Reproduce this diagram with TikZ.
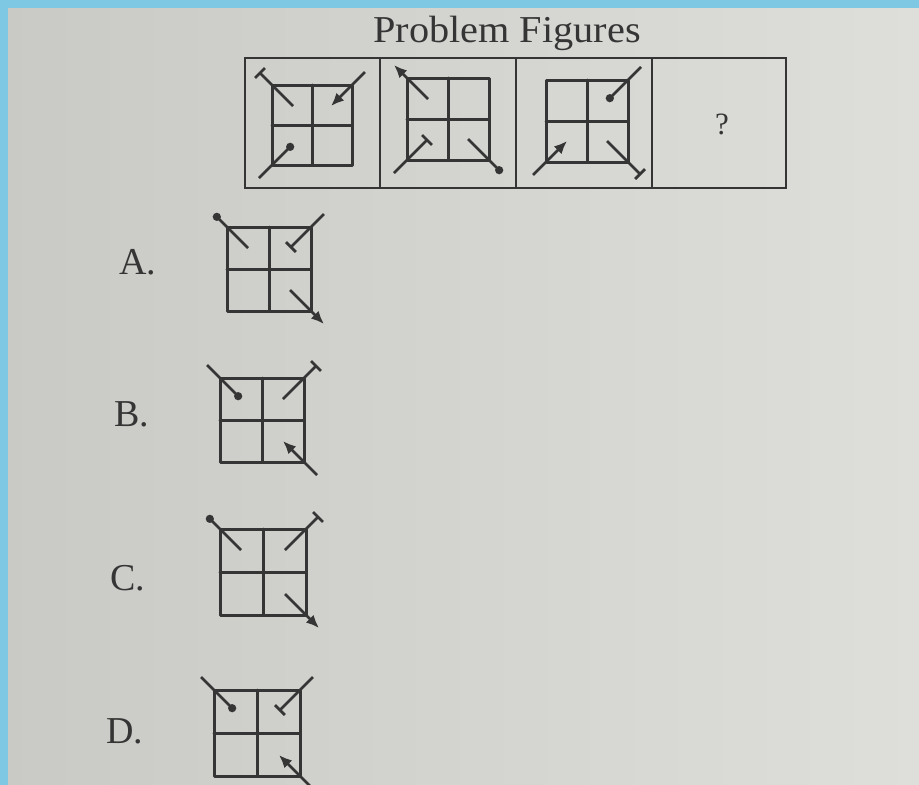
\documentclass[tikz,border=0pt]{standalone}
\usepackage{fontspec}
\setmainfont{Liberation Serif}
\usetikzlibrary{arrows.meta}
\definecolor{paperL}{HTML}{C9C9C5}
\definecolor{paperR}{HTML}{DEDEDA}
\definecolor{skyb}{HTML}{7EC8E3}
\definecolor{ink}{HTML}{353535}
\tikzset{
  gridline/.style={draw=ink,line width=3pt,line cap=round,line join=round},
  frameline/.style={draw=ink,line width=2.3pt},
  symline/.style={draw=ink,fill=ink,line width=2.8pt},
  lbl/.style={font=\fontsize{38}{42}\selectfont,text=ink,inner sep=0pt},
  aout/.style={{Latex[length=13pt,width=11pt]}-},
  ain/.style={-{Latex[length=13pt,width=11pt]}},
  dout/.style={{Circle[length=8pt]}-},
  din/.style={-{Circle[length=8pt]}},
  tout/.style={{Bar[width=14pt,line width=2.8pt]}-},
  tin/.style={-{Bar[width=14pt,line width=2.8pt]}}
}
% #1 cx, #2 cy, #3 half size
\newcommand\gridsq[3]{%
  \draw[gridline] ({#1-#3},{#2-#3}) rectangle ({#1+#3},{#2+#3});
  \draw[gridline] (#1,{#2-#3}) -- (#1,{#2+#3}) ({#1-#3},#2) -- ({#1+#3},#2);}
% #1 cx, #2 cy, #3 sx, #4 sy, #5 half size, #6 tip style
\newcommand\dline[6]{%
  \draw[symline,#6] ({#1+#3*(#5+13)},{#2+#4*(#5+13)}) -- ({#1+#3*(#5-21)},{#2+#4*(#5-21)});}
\begin{document}
\begin{tikzpicture}[x=1pt,y=-1pt]
\useasboundingbox (0,0) rectangle (919,785);
\shade[left color=paperL,right color=paperR] (0,0) rectangle (919,785);
\fill[skyb] (0,0) rectangle (919,8);
\fill[skyb] (0,0) rectangle (8,785);
% title
\node[lbl,anchor=base,xscale=1.06] (title) at (507,42) {Problem Figures};
% problem frame
\draw[frameline] (245,58) rectangle (786,188);
\draw[frameline] (380,58) -- (380,188) (516,58) -- (516,188) (652,58) -- (652,188);
% cell 1
\gridsq{312}{125}{40}
\dline{312}{125}{-1}{-1}{40}{tout}
\dline{312}{125}{1}{-1}{40}{ain}
\dline{312}{125}{-1}{1}{40}{din}
% cell 2
\gridsq{448}{119}{41}
\dline{448}{119}{-1}{-1}{41}{aout}
\dline{448}{119}{-1}{1}{41}{tin}
\dline{448}{119}{1}{1}{41}{dout}
% cell 3
\gridsq{587}{121}{41}
\dline{587}{121}{1}{-1}{41}{din}
\dline{587}{121}{-1}{1}{41}{ain}
\dline{587}{121}{1}{1}{41}{tout}
% cell 4
\node[lbl,font=\fontsize{31}{34}\selectfont] (q) at (722,124) {?};
% option A
\node[lbl] (la) at (138,262) {A.};
\gridsq{269}{269}{42}
\dline{269}{269}{-1}{-1}{42}{dout}
\dline{269}{269}{1}{-1}{42}{tin}
\dline{269}{269}{1}{1}{42}{aout}
% option B
\node[lbl] (lb) at (132,414) {B.};
\gridsq{262}{420}{42}
\dline{262}{420}{-1}{-1}{42}{din}
\dline{262}{420}{1}{-1}{42}{tout}
\dline{262}{420}{1}{1}{42}{ain}
% option C
\node[lbl] (lc) at (128,578) {C.};
\gridsq{263}{572}{43}
\dline{263}{572}{-1}{-1}{43}{dout}
\dline{263}{572}{1}{-1}{43}{tout}
\dline{263}{572}{1}{1}{43}{aout}
% option D
\node[lbl] (ld) at (125,731) {D.};
\gridsq{257}{733}{43}
\dline{257}{733}{-1}{-1}{43}{din}
\dline{257}{733}{1}{-1}{43}{tin}
\dline{257}{733}{1}{1}{43}{ain}
\end{tikzpicture}
\end{document}
